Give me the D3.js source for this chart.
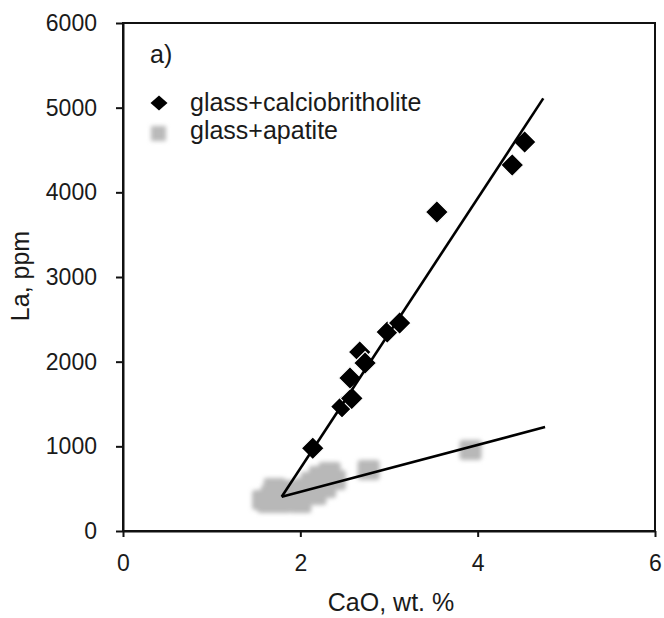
<!DOCTYPE html>
<html>
<head>
<meta charset="utf-8">
<script src="https://cdn.jsdelivr.net/npm/d3@7"></script>
<style>
  body { margin: 0; background: #fff; }
  text { font-family: "Liberation Sans", Arial, sans-serif; fill: #1a1a1a; }
</style>
</head>
<body>
<div id="chart"></div>
<script>

/* Data */
/* ---- */

// glass+calciobritholite : [CaO wt.%, La ppm]
var calcioCaO = [2.14, 2.47, 2.58, 2.56, 2.67, 2.73, 2.98, 3.12, 3.54, 4.39, 4.53];
var calcioLa  = [977, 1469, 1567, 1807, 2114, 1984, 2350, 2457, 3768, 4323, 4594];

// glass+apatite
var apatiteCaO = [1.58, 1.68, 1.77, 1.88, 1.97, 1.83, 1.71, 2.05, 2.13, 2.22, 2.33, 2.39, 2.28, 2.17, 2.00, 1.64, 2.77, 3.92];
var apatiteLa  = [366, 425, 331, 366, 413, 484, 508, 508, 579, 650, 697, 602, 508, 425, 331, 331, 720, 957];

// trend lines (start, end)
var calcioFit  = [[1.79, 405], [4.74, 5110]];
var apatiteFit = [[1.79, 405], [4.76, 1228]];

var xTicks = [0, 2, 4, 6];
var yTicks = [0, 1000, 2000, 3000, 4000, 5000, 6000];
var legendLabels = ['glass+calciobritholite', 'glass+apatite'];


/* Setup */
/* ----- */

var width = 664, height = 618;
var plot = { left: 123, right: 655, top: 23, bottom: 531 };

var svg = d3.select('#chart').append('svg')
    .attr('width', width)
    .attr('height', height);

var x = d3.scaleLinear().domain([0, 6]).range([plot.left, plot.right]);
var y = d3.scaleLinear().domain([0, 6000]).range([plot.bottom, plot.top]);

var defs = svg.append('defs');
defs.append('filter').attr('id', 'soft')
    .attr('x', '-30%').attr('y', '-30%').attr('width', '160%').attr('height', '160%')
  .append('feGaussianBlur').attr('stdDeviation', 2.2);


/* Frame + axes */
/* ------------ */

svg.append('rect')
    .attr('x', plot.left).attr('y', plot.top)
    .attr('width', plot.right - plot.left).attr('height', plot.bottom - plot.top)
    .attr('fill', 'none').attr('stroke', '#111').attr('stroke-width', 2);

var xAxis = svg.append('g')
    .attr('transform', 'translate(0,' + plot.bottom + ')')
    .call(d3.axisBottom(x).tickValues(xTicks).tickFormat(d3.format('d'))
      .tickSize(6).tickPadding(18).tickSizeOuter(0));

var yAxis = svg.append('g')
    .attr('transform', 'translate(' + plot.left + ',0)')
    .call(d3.axisLeft(y).tickValues(yTicks).tickFormat(d3.format('d'))
      .tickSize(7).tickPadding(19).tickSizeOuter(0));

[xAxis, yAxis].forEach(function(ax) {
  ax.select('.domain').attr('stroke', '#111').attr('stroke-width', 2);
  ax.selectAll('.tick line').attr('stroke', '#111').attr('stroke-width', 2);
  ax.selectAll('.tick text')
      .style('font-family', '"Liberation Sans", Arial, sans-serif')
      .style('font-size', '23px')
      .attr('fill', '#1a1a1a');
});


/* Marks */
/* ----- */

var apatite = apatiteCaO.map(function(v, i) { return { x: v, y: apatiteLa[i] }; });
var calcio  = calcioCaO.map(function(v, i) { return { x: v, y: calcioLa[i] }; });

svg.append('g').attr('filter', 'url(#soft)')
  .selectAll('rect')
  .data(apatite)
  .enter().append('rect')
    .attr('x', function(d) { return x(d.x) - 11; })
    .attr('y', function(d) { return y(d.y) - 10; })
    .attr('width', 22)
    .attr('height', 20)
    .attr('rx', 3)
    .attr('fill', '#b8b8b8');

var diamond = function(cx, cy, hw, hh) {
  return 'M' + cx + ',' + (cy - hh) + 'L' + (cx + hw) + ',' + cy +
         'L' + cx + ',' + (cy + hh) + 'L' + (cx - hw) + ',' + cy + 'Z';
};

svg.append('g')
  .selectAll('path')
  .data(calcio)
  .enter().append('path')
    .attr('d', function(d) { return diamond(x(d.x), y(d.y), 11.5, 11.5); })
    .attr('fill', '#000')
    .attr('stroke', '#fff')
    .attr('stroke-width', 1.2);

var line = d3.line()
    .x(function(d) { return x(d[0]); })
    .y(function(d) { return y(d[1]); });

svg.append('g').selectAll('path')
  .data([calcioFit, apatiteFit])
  .enter().append('path')
    .attr('d', line)
    .attr('fill', 'none')
    .attr('stroke', '#000')
    .attr('stroke-width', 2.6);


/* Labels + legend */
/* --------------- */

svg.append('text')
    .attr('x', 150).attr('y', 63)
    .style('font-size', '25px')
    .text('a)');

svg.append('path')
    .attr('d', diamond(159, 103, 8.5, 7.5))
    .attr('fill', '#000');

svg.append('rect')
    .attr('x', 151).attr('y', 126)
    .attr('width', 15).attr('height', 15)
    .attr('fill', '#bababa')
    .attr('filter', 'url(#soft)');

svg.selectAll('.legend-label')
  .data(legendLabels)
  .enter().append('text')
    .attr('class', 'legend-label')
    .attr('x', 190)
    .attr('y', function(d, i) { return 111 + i * 28; })
    .style('font-size', '25px')
    .text(function(d) { return d; });

svg.append('text')
    .attr('x', 391).attr('y', 611)
    .attr('text-anchor', 'middle')
    .style('font-size', '25px')
    .text('CaO, wt. %');

svg.append('text')
    .attr('transform', 'translate(29,276) rotate(-90)')
    .attr('text-anchor', 'middle')
    .style('font-size', '25px')
    .text('La, ppm');

</script>
</body>
</html>
